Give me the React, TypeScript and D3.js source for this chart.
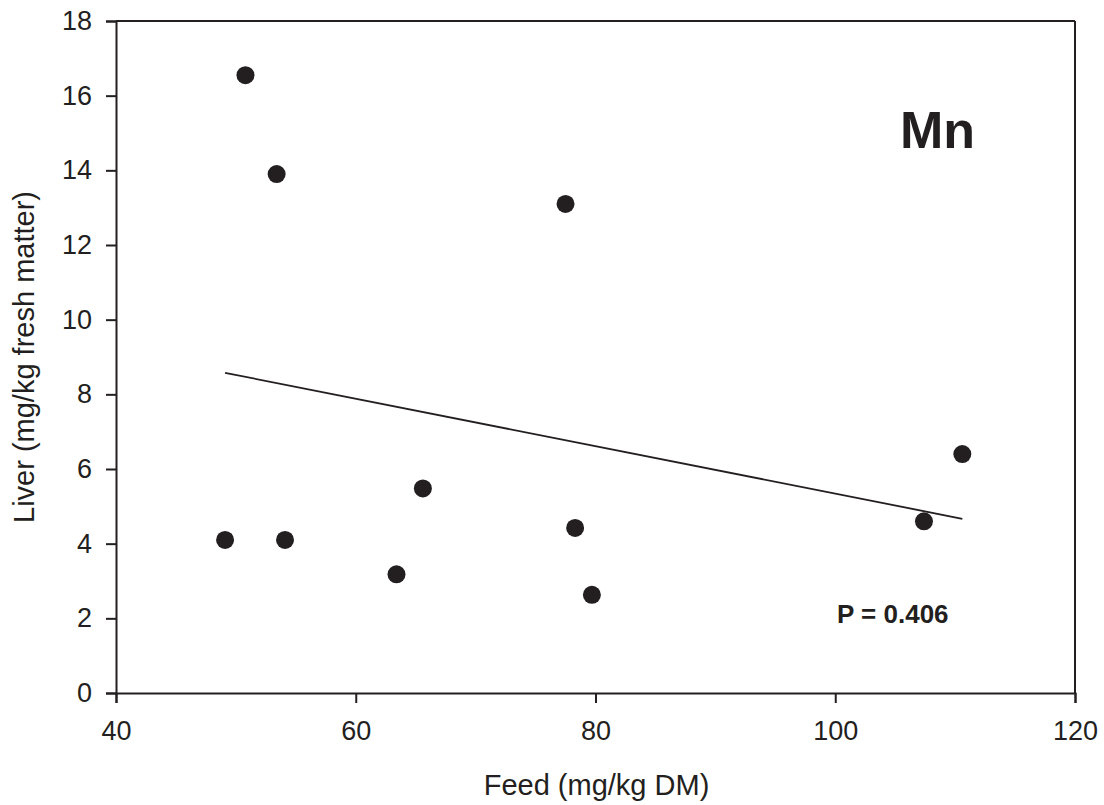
import React, { useEffect, useRef } from 'react';
import * as d3 from 'd3';

// values
const feed = [49.1, 50.8, 53.4, 54.1, 63.4, 65.6, 77.5, 78.3, 79.7, 107.4, 110.6];
const liver = [4.1, 16.55, 13.9, 4.1, 3.18, 5.48, 13.1, 4.42, 2.63, 4.6, 6.4];
const xTicks = [40, 60, 80, 100, 120];
const yTicks = [0, 2, 4, 6, 8, 10, 12, 14, 16, 18];
const xTitle = 'Feed (mg/kg DM)';
const yTitle = 'Liver (mg/kg fresh matter)';
const element = 'Mn';
const pText = 'P = 0.406';

const W = 1104, H = 805;
const ink = '#231f20';
const font = 'Arial, "Liberation Sans", Helvetica, sans-serif';

export default function App() {
  const ref = useRef<SVGSVGElement>(null);

  useEffect(() => {
    const svg = d3.select(ref.current);
    svg.selectAll('*').remove();

    const left = 116, right = 1075, top = 21, bottom = 693;

    const x = d3.scaleLinear().domain([40, 120]).range([left, right]);
    const y = d3.scaleLinear().domain([0, 18]).range([bottom, top]);

    // frame (top and right)
    svg.append('line')
      .attr('x1', left).attr('x2', right).attr('y1', top).attr('y2', top)
      .attr('stroke', ink).attr('stroke-width', 2);
    svg.append('line')
      .attr('x1', right).attr('x2', right).attr('y1', top).attr('y2', bottom)
      .attr('stroke', ink).attr('stroke-width', 2);

    // x axis
    const gx = svg.append('g')
      .attr('transform', `translate(0, ${bottom})`)
      .call(d3.axisBottom(x).tickValues(xTicks).tickSize(10).tickPadding(18).tickFormat(d3.format('d')));
    gx.select('.domain').attr('stroke', ink).attr('stroke-width', 2);
    gx.selectAll('.tick line').attr('stroke', ink).attr('stroke-width', 2);
    gx.selectAll('.tick text')
      .attr('fill', ink).attr('font-size', 27).attr('font-family', font);

    // y axis
    const gy = svg.append('g')
      .attr('transform', `translate(${left}, 0)`)
      .call(d3.axisLeft(y).tickValues(yTicks).tickSize(10).tickPadding(14).tickFormat(d3.format('d')));
    gy.select('.domain').attr('stroke', ink).attr('stroke-width', 2);
    gy.selectAll('.tick line').attr('stroke', ink).attr('stroke-width', 2);
    gy.selectAll('.tick text')
      .attr('fill', ink).attr('font-size', 27).attr('font-family', font);

    // least squares line
    const mx = d3.mean(feed) as number;
    const my = d3.mean(liver) as number;
    let sxy = 0, sxx = 0;
    feed.forEach((fx, i) => {
      sxy += (fx - mx) * (liver[i] - my);
      sxx += (fx - mx) * (fx - mx);
    });
    const slope = sxy / sxx;
    const icpt = my - slope * mx;
    const ext = d3.extent(feed) as [number, number];
    svg.append('path')
      .datum(ext)
      .attr('d', d3.line<number>().x(d => x(d)).y(d => y(icpt + slope * d)))
      .attr('fill', 'none').attr('stroke', ink).attr('stroke-width', 1.8);

    // points
    svg.append('g')
      .selectAll('circle')
      .data(feed)
      .join('circle')
      .attr('cx', d => x(d))
      .attr('cy', (d, i) => y(liver[i]))
      .attr('r', 9)
      .attr('fill', ink);

    // titles
    svg.append('text')
      .attr('x', (left + right) / 2 + 1).attr('y', 795)
      .attr('text-anchor', 'middle')
      .attr('font-size', 29).attr('font-family', font).attr('fill', ink)
      .text(xTitle);
    svg.append('text')
      .attr('transform', `translate(34, ${(top + bottom) / 2}) rotate(-90)`)
      .attr('text-anchor', 'middle')
      .attr('font-size', 29).attr('font-family', font).attr('fill', ink)
      .text(yTitle);

    svg.append('text')
      .attr('x', 975).attr('y', 148)
      .attr('text-anchor', 'end')
      .attr('font-size', 52).attr('font-weight', 'bold').attr('font-family', font).attr('fill', ink)
      .text(element);
    svg.append('text')
      .attr('x', 837).attr('y', 623)
      .attr('font-size', 26).attr('font-weight', 'bold').attr('font-family', font).attr('fill', ink)
      .text(pText);
  }, []);

  return (
    <svg ref={ref} width={W} height={H}
      style={{ position: 'absolute', left: 0, top: 0, background: '#fff' }} />
  );
}
